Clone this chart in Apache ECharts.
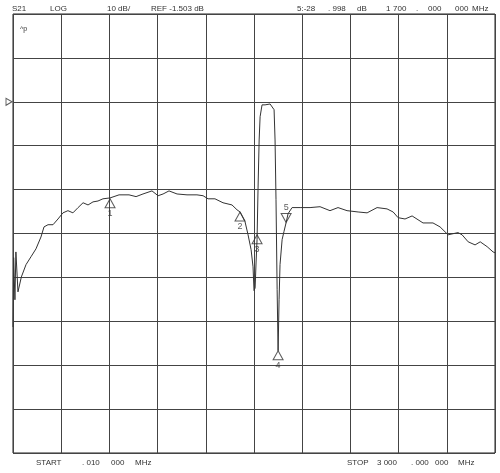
<!DOCTYPE html>
<html>
<head>
<meta charset="utf-8">
<script src="https://cdn.jsdelivr.net/npm/echarts@6/dist/echarts.min.js"></script>
<style>
  html, body { margin: 0; padding: 0; background: #fff; }
  #chart { width: 500px; height: 473px; }
</style>
</head>
<body>
<div id="chart"></div>
<script>
// reference level, dB (the ref line sits 2 div below the top)
var REF = -1.503;

// S21 trace, MHz / dB
var freqMHz = [0.01, 4, 12, 18, 31, 52, 81, 112, 143, 174, 193, 218, 249, 280, 311, 342, 373, 405, 436, 467,
  498, 529, 560, 604, 660, 722, 766, 809, 865, 903, 934, 971, 1021, 1083, 1145, 1183, 1214, 1257, 1307, 1363,
  1394, 1413, 1444, 1463, 1482, 1494, 1500, 1507, 1513, 1519, 1525, 1532, 1538, 1550, 1569, 1600, 1612, 1625,
  1631, 1637, 1644, 1650, 1656, 1662, 1675, 1687, 1700, 1712, 1737, 1787, 1849, 1911, 1973, 2023, 2079, 2148,
  2204, 2266, 2328, 2366, 2397, 2440, 2484, 2552, 2614, 2658, 2708, 2770, 2795, 2833, 2876, 2908, 2951, 2988, 3000];
var traceDb = [-52.8, -37.0, -46.6, -35.7, -44.8, -41.4, -38.6, -36.8, -35.0, -32.3, -30.0, -29.5, -29.5, -28.2, -26.8, -26.3, -26.8, -25.6, -24.5, -25.0,
  -24.3, -24.1, -23.6, -23.4, -22.7, -22.7, -23.1, -22.5, -21.8, -22.9, -22.5, -21.8, -22.5, -22.7, -22.7, -22.9, -23.6, -23.6, -24.5, -25.0,
  -26.1, -26.6, -28.8, -31.8, -35.2, -39.1, -44.5, -43.9, -38.0, -32.9, -21.5, -10.2, -4.9, -2.2, -2.2, -2.0, -1.7, -3.3,
  -10.2, -23.8, -44.3, -58.2, -46.6, -38.6, -32.9, -31.0, -29.0, -27.0, -25.6, -25.6, -25.6, -25.4, -26.3, -25.6, -26.3, -26.6,
  -26.8, -25.6, -25.9, -26.6, -27.9, -28.2, -27.5, -29.1, -29.1, -30.0, -31.8, -31.3, -31.8, -33.4, -34.1, -33.4, -34.5, -35.7, -35.9];

// markers
var markerNames = ['1', '2', '3', '4', '5'];
var markerFreq = [604, 1413, 1519, 1650, 1700];
var markerDb = [-23.6, -26.6, -31.8, -58.2, -29.0];

var chart = echarts.init(document.getElementById('chart'));

var txt = function (x, y, s) {
  return { type: 'text', x: x, y: y, style: { text: s, fill: '#333', font: '8px "Liberation Sans"', textVerticalAlign: 'middle' } };
};

var upMarkers = [], downMarkers = [];
markerNames.forEach(function (n, i) {
  var p = { name: n, value: [markerFreq[i], markerDb[i] - REF] };
  if (n === '5') downMarkers.push(p); else upMarkers.push(p);
});

var option = {
  animation: false,
  backgroundColor: '#fff',
  grid: { left: 13, right: 5, top: 14, bottom: 20, show: true, borderColor: '#222', borderWidth: 1 },
  xAxis: {
    type: 'value', min: 0, max: 3000, interval: 300,
    axisLine: { show: false }, axisTick: { show: false }, axisLabel: { show: false },
    splitLine: { show: true, lineStyle: { color: '#444', width: 1 } }
  },
  yAxis: {
    type: 'value', min: -80, max: 20, interval: 10,
    axisLine: { show: false }, axisTick: { show: false }, axisLabel: { show: false },
    splitLine: { show: true, lineStyle: { color: '#444', width: 1 } }
  },
  series: [
    {
      type: 'line', showSymbol: false, silent: true,
      data: freqMHz.map(function (f, i) { return [f, traceDb[i] - REF]; }),
      lineStyle: { color: '#333', width: 1 }
    },
    {
      type: 'scatter', symbol: 'triangle', symbolSize: [10, 9], symbolOffset: [0, 4.5],
      itemStyle: { color: 'rgba(255,255,255,0)', borderColor: '#333', borderWidth: 1 },
      label: { show: true, position: 'bottom', distance: 1, formatter: '{b}', color: '#333', fontSize: 9, fontFamily: 'Liberation Sans' },
      data: upMarkers
    },
    {
      type: 'scatter', symbol: 'triangle', symbolRotate: 180, symbolSize: [10, 9], symbolOffset: [0, -4.5],
      itemStyle: { color: 'rgba(255,255,255,0)', borderColor: '#333', borderWidth: 1 },
      label: { show: true, position: 'top', distance: 1, formatter: '{b}', color: '#333', fontSize: 9, fontFamily: 'Liberation Sans' },
      data: downMarkers
    },
    {
      // ref level pointer on the left edge
      type: 'scatter', symbol: 'triangle', symbolRotate: -90, symbolSize: [7, 6], symbolOffset: [-4, 0],
      clip: false,
      itemStyle: { color: '#fff', borderColor: '#333', borderWidth: 1 },
      data: [[0, 0]]
    }
  ],
  graphic: [
    txt(12, 9, 'S21'), txt(50, 9, 'LOG'), txt(107, 9, '10 dB/'), txt(151, 9, 'REF -1.503 dB'),
    txt(297, 9, '5:-28'), txt(328, 9, '. 998'), txt(357, 9, 'dB'),
    txt(386, 9, '1'), txt(393, 9, '700'), txt(416, 9, '.'), txt(428, 9, '000'), txt(455, 9, '000'), txt(472, 9, 'MHz'),
    { type: 'text', x: 20, y: 29, style: { text: '^p', fill: '#333', font: '7px "Liberation Sans"', textVerticalAlign: 'middle' } },
    txt(36, 463, 'START'), txt(82, 463, '. 010'), txt(111, 463, '000'), txt(135, 463, 'MHz'),
    txt(347, 463, 'STOP'), txt(377, 463, '3 000'), txt(411, 463, '. 000'), txt(435, 463, '000'), txt(458, 463, 'MHz')
  ]
};

chart.setOption(option);
</script>
</body>
</html>
